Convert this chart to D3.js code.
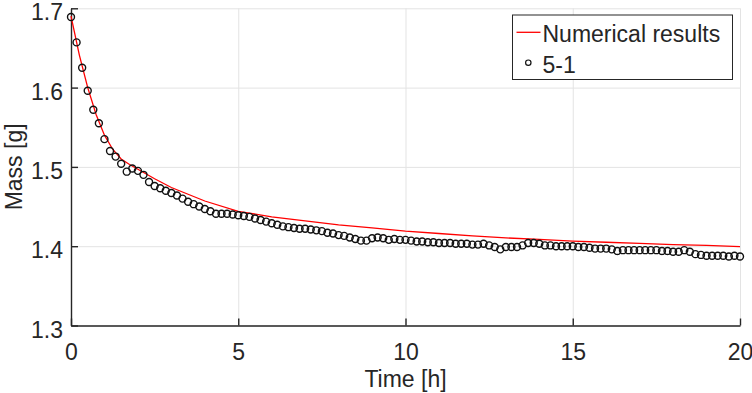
<!DOCTYPE html>
<html>
<head>
<meta charset="utf-8">
<script src="https://cdn.jsdelivr.net/npm/d3@7"></script>
<style>
  body { margin: 0; background: #fff; }
  svg { display: block; font-family: "Liberation Sans", Arial, sans-serif; }
  .grid line { stroke: #e3e3e3; stroke-width: 1; }
  .grid path { display: none; }
  .axis path, .axis line { stroke: #262626; stroke-width: 1.4; }
  .axis text { fill: #262626; font-size: 23px; }
  .label { fill: #262626; font-size: 23px; }
</style>
</head>
<body>
<div id="chart"></div>
<script>
// measured samples, every 10 minutes
var sampleMinutes = [0,10,20,30,40,50,60,70,80,90,100,110,120,130,140,150,160,170,180,190,
  200,210,220,230,240,250,260,270,280,290,300,310,320,330,340,350,360,370,380,390,
  400,410,420,430,440,450,460,470,480,490,500,510,520,530,540,550,560,570,580,590,
  600,610,620,630,640,650,660,670,680,690,700,710,720,730,740,750,760,770,780,790,
  800,810,820,830,840,850,860,870,880,890,900,910,920,930,940,950,960,970,980,990,
  1000,1010,1020,1030,1040,1050,1060,1070,1080,1090,1100,1110,1120,1130,1140,1150,1160,1170,1180,1190,
  1200];
var sampleMass = [1.689,1.657,1.625,1.596,1.572,1.555,1.535,1.520,1.513,1.504,
  1.494,1.498,1.495,1.490,1.481,1.476,1.473,1.470,1.467,1.464,
  1.460,1.456,1.453,1.450,1.447,1.444,1.441,1.441,1.441,1.440,
  1.439,1.438,1.437,1.435,1.433,1.431,1.429,1.427,1.425,1.424,
  1.423,1.422,1.422,1.421,1.420,1.419,1.417,1.416,1.414,1.413,
  1.411,1.409,1.407,1.407,1.410,1.411,1.410,1.408,1.409,1.408,
  1.408,1.407,1.406,1.406,1.405,1.405,1.404,1.404,1.404,1.403,
  1.403,1.403,1.402,1.402,1.403,1.401,1.399,1.396,1.399,1.399,
  1.399,1.401,1.404,1.404,1.403,1.401,1.401,1.400,1.400,1.400,
  1.400,1.399,1.399,1.398,1.397,1.397,1.397,1.396,1.394,1.395,
  1.395,1.395,1.395,1.395,1.395,1.395,1.394,1.394,1.393,1.393,
  1.395,1.393,1.390,1.389,1.388,1.388,1.388,1.388,1.387,1.388,
  1.387];

// numerical model curve
var modelTime = [0,0.25,0.5,0.75,1,1.25,1.5,1.75,2,2.5,3,4,5,6,7,8,9,10,11,12,13,14,15,16,17,18,19,20];
var modelMass = [1.690,1.641,1.600,1.566,1.540,1.522,1.510,1.503,1.497,1.485,1.474,1.457,1.444,1.437,
  1.432,1.427,1.423,1.419,1.416,1.413,1.4105,1.4085,1.4065,1.405,1.4035,1.402,1.401,1.3995];

var xTicks = [0, 5, 10, 15, 20];
var yTicks = [1.3, 1.4, 1.5, 1.6, 1.7];
var seriesNames = ["Numerical results", "5-1"];

var vis = {};
vis.left = 71; vis.right = 740; vis.top = 8.3; vis.bottom = 325.5;

vis.svg = d3.select("#chart").append("svg")
  .attr("width", 752)
  .attr("height", 393);

vis.x = d3.scaleLinear().domain([0, 20]).range([vis.left, vis.right]);
vis.y = d3.scaleLinear().domain([1.3, 1.7]).range([vis.bottom, vis.top]);

// grid
vis.svg.append("g")
  .attr("class", "grid")
  .attr("transform", "translate(0," + vis.bottom + ")")
  .call(d3.axisBottom(vis.x).tickValues(xTicks).tickSize(-(vis.bottom - vis.top)).tickFormat(""));

vis.svg.append("g")
  .attr("class", "grid")
  .attr("transform", "translate(" + vis.left + ",0)")
  .call(d3.axisLeft(vis.y).tickValues(yTicks).tickSize(-(vis.right - vis.left)).tickFormat(""));

// axes
var xAxis = vis.svg.append("g")
  .attr("class", "axis")
  .attr("transform", "translate(0," + vis.bottom + ")")
  .call(d3.axisBottom(vis.x).tickValues(xTicks).tickSizeInner(-7).tickSizeOuter(0).tickFormat(d3.format("d")));
xAxis.selectAll("text").attr("y", 34.5).attr("dy", null);

var yAxis = vis.svg.append("g")
  .attr("class", "axis")
  .attr("transform", "translate(" + vis.left + ",0)")
  .call(d3.axisLeft(vis.y).tickValues(yTicks).tickSizeInner(-7).tickSizeOuter(0).tickPadding(8).tickFormat(d3.format(".1f")));
yAxis.selectAll("text").attr("dy", "0.5em");

// model line
var line = d3.line()
  .x(function(d, i){ return vis.x(d); })
  .y(function(d, i){ return vis.y(modelMass[i]); });

vis.svg.append("path")
  .datum(modelTime)
  .attr("fill", "none")
  .attr("stroke", "#ff0000")
  .attr("stroke-width", 1.3)
  .attr("d", line);

// measured circles
vis.svg.append("g").selectAll("circle")
  .data(sampleMinutes)
  .enter().append("circle")
  .attr("cx", function(d){ return vis.x(d / 60); })
  .attr("cy", function(d, i){ return vis.y(sampleMass[i]); })
  .attr("r", 3.5)
  .attr("fill", "none")
  .attr("stroke", "#111")
  .attr("stroke-width", 1.4);

// axis labels
vis.svg.append("text")
  .attr("class", "label")
  .attr("text-anchor", "middle")
  .attr("x", (vis.left + vis.right) / 2)
  .attr("y", 387)
  .text("Time [h]");

vis.svg.append("text")
  .attr("class", "label")
  .attr("text-anchor", "middle")
  .attr("transform", "translate(21.5," + ((vis.top + vis.bottom) / 2) + ")rotate(-90)")
  .text("Mass [g]");

// legend
var legend = vis.svg.append("g");
legend.append("rect")
  .attr("x", 512.5).attr("y", 15)
  .attr("width", 220).attr("height", 64.5)
  .attr("fill", "#fff")
  .attr("stroke", "#262626")
  .attr("stroke-width", 1);

legend.append("line")
  .attr("x1", 516.5).attr("x2", 540.5)
  .attr("y1", 32.3).attr("y2", 32.3)
  .attr("stroke", "#ff0000")
  .attr("stroke-width", 1.3);

legend.append("circle")
  .attr("cx", 528.3).attr("cy", 62.7)
  .attr("r", 2.7)
  .attr("fill", "none")
  .attr("stroke", "#111")
  .attr("stroke-width", 1.2);

legend.selectAll(".legend-text")
  .data(seriesNames)
  .enter().append("text")
  .attr("class", "label legend-text")
  .attr("x", 542.5)
  .attr("y", function(d, i){ return i === 0 ? 42.3 : 73.3; })
  .text(function(d){ return d; });
</script>
</body>
</html>
